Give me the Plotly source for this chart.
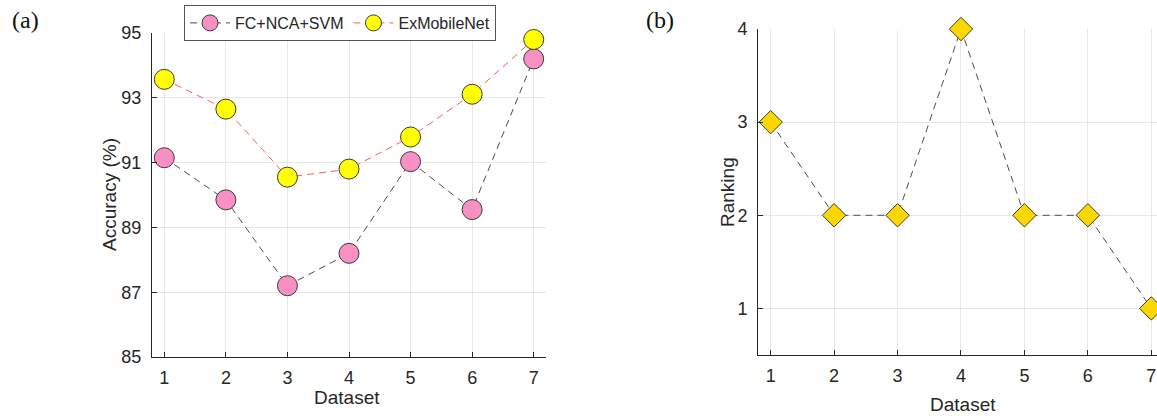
import plotly.graph_objects as go

datasets = [1, 2, 3, 4, 5, 6, 7]
fc_nca_svm = [91.15, 89.85, 87.2, 88.2, 91.03, 89.55, 94.2]
exmobilenet = [93.57, 92.65, 90.55, 90.8, 91.79, 93.11, 94.8]
ranking = [3, 2, 2, 4, 2, 2, 1]
acc_ticks = [85, 87, 89, 91, 93, 95]
rank_ticks = [1, 2, 3, 4]

W, H = 1157, 416
FONT = "Liberation Sans, Arial, sans-serif"
TXT = "#262626"

fig = go.Figure()

fig.add_trace(go.Scatter(
    x=datasets, y=fc_nca_svm, name="FC+NCA+SVM", mode="lines+markers", cliponaxis=False,
    line=dict(color="#4d4d4d", width=1, dash="7px,5px"),
    marker=dict(symbol="circle", size=20, color="#F990C4",
                line=dict(color="#3a3a3a", width=1)),
    xaxis="x", yaxis="y"))
fig.add_trace(go.Scatter(
    x=datasets, y=exmobilenet, name="ExMobileNet", mode="lines+markers", cliponaxis=False,
    line=dict(color="#FF5A5A", width=1, dash="7px,5px"),
    marker=dict(symbol="circle", size=20, color="#FFFF00",
                line=dict(color="#3a3a3a", width=1)),
    xaxis="x", yaxis="y"))
fig.add_trace(go.Scatter(
    x=datasets, y=ranking, name="Ranking", mode="lines+markers", showlegend=False,
    cliponaxis=False,
    line=dict(color="#4d4d4d", width=1, dash="7px,5px"),
    marker=dict(symbol="diamond", size=18, color="#FFD700",
                line=dict(color="#3a3a3a", width=1)),
    xaxis="x2", yaxis="y2"))

def px_x(p):
    return p / W

def px_y(p):
    return 1 - p / H

axis_common = dict(
    showline=True, linecolor=TXT, linewidth=1, mirror=False, automargin=False,
    ticks="inside", ticklen=5, tickcolor=TXT, tickwidth=1,
    showgrid=True, gridcolor="#E6E6E6", gridwidth=1, zeroline=False,
    tickfont=dict(family=FONT, size=18, color=TXT),
)

fig.update_layout(
    width=W, height=H, autosize=False,
    margin=dict(l=0, r=0, t=0, b=0, pad=0),
    paper_bgcolor="white", plot_bgcolor="white",
    font=dict(family=FONT, color=TXT),
    xaxis=dict(domain=[px_x(152), px_x(546)], range=[0.8, 7.2],
               tickvals=datasets, anchor="y", ticklabelstandoff=4, **axis_common),
    yaxis=dict(domain=[px_y(357), px_y(33)], range=[85, 95],
               tickvals=acc_ticks, anchor="x", ticklabelstandoff=6, **axis_common),
    xaxis2=dict(domain=[px_x(758), 1.0], range=[0.8, 7.09],
                tickvals=datasets, anchor="y2", ticklabelstandoff=4, **axis_common),
    yaxis2=dict(domain=[px_y(355), px_y(29)], range=[0.5, 4],
                tickvals=rank_ticks, anchor="x2", ticklabelstandoff=6, **axis_common),
    showlegend=True,
    legend=dict(orientation="h", x=px_x(340), y=px_y(5), xanchor="center", yanchor="top",
                bgcolor="white", bordercolor="#555555", borderwidth=1,
                font=dict(family=FONT, size=16, color=TXT),
                itemwidth=40, tracegroupgap=0),
)

annotations = [
    dict(text="Accuracy (%)", x=px_x(109), y=px_y(195), textangle=-90),
    dict(text="Dataset", x=px_x(347), y=px_y(397), textangle=0),
    dict(text="Ranking", x=px_x(727), y=px_y(192), textangle=-90),
    dict(text="Dataset", x=px_x(963), y=px_y(404), textangle=0),
]
for a in annotations:
    fig.add_annotation(text=a["text"], x=a["x"], y=a["y"], xref="paper", yref="paper",
                       xanchor="center", yanchor="middle", textangle=a["textangle"],
                       showarrow=False, font=dict(family=FONT, size=19, color=TXT))

for lbl, xp in [("(a)", 25), ("(b)", 660)]:
    fig.add_annotation(text=lbl, x=px_x(xp), y=px_y(20), xref="paper", yref="paper",
                       xanchor="center", yanchor="middle", showarrow=False,
                       font=dict(family="Liberation Serif, Times New Roman, serif", size=24, color="#111111"))

fig.write_html("out.html")
